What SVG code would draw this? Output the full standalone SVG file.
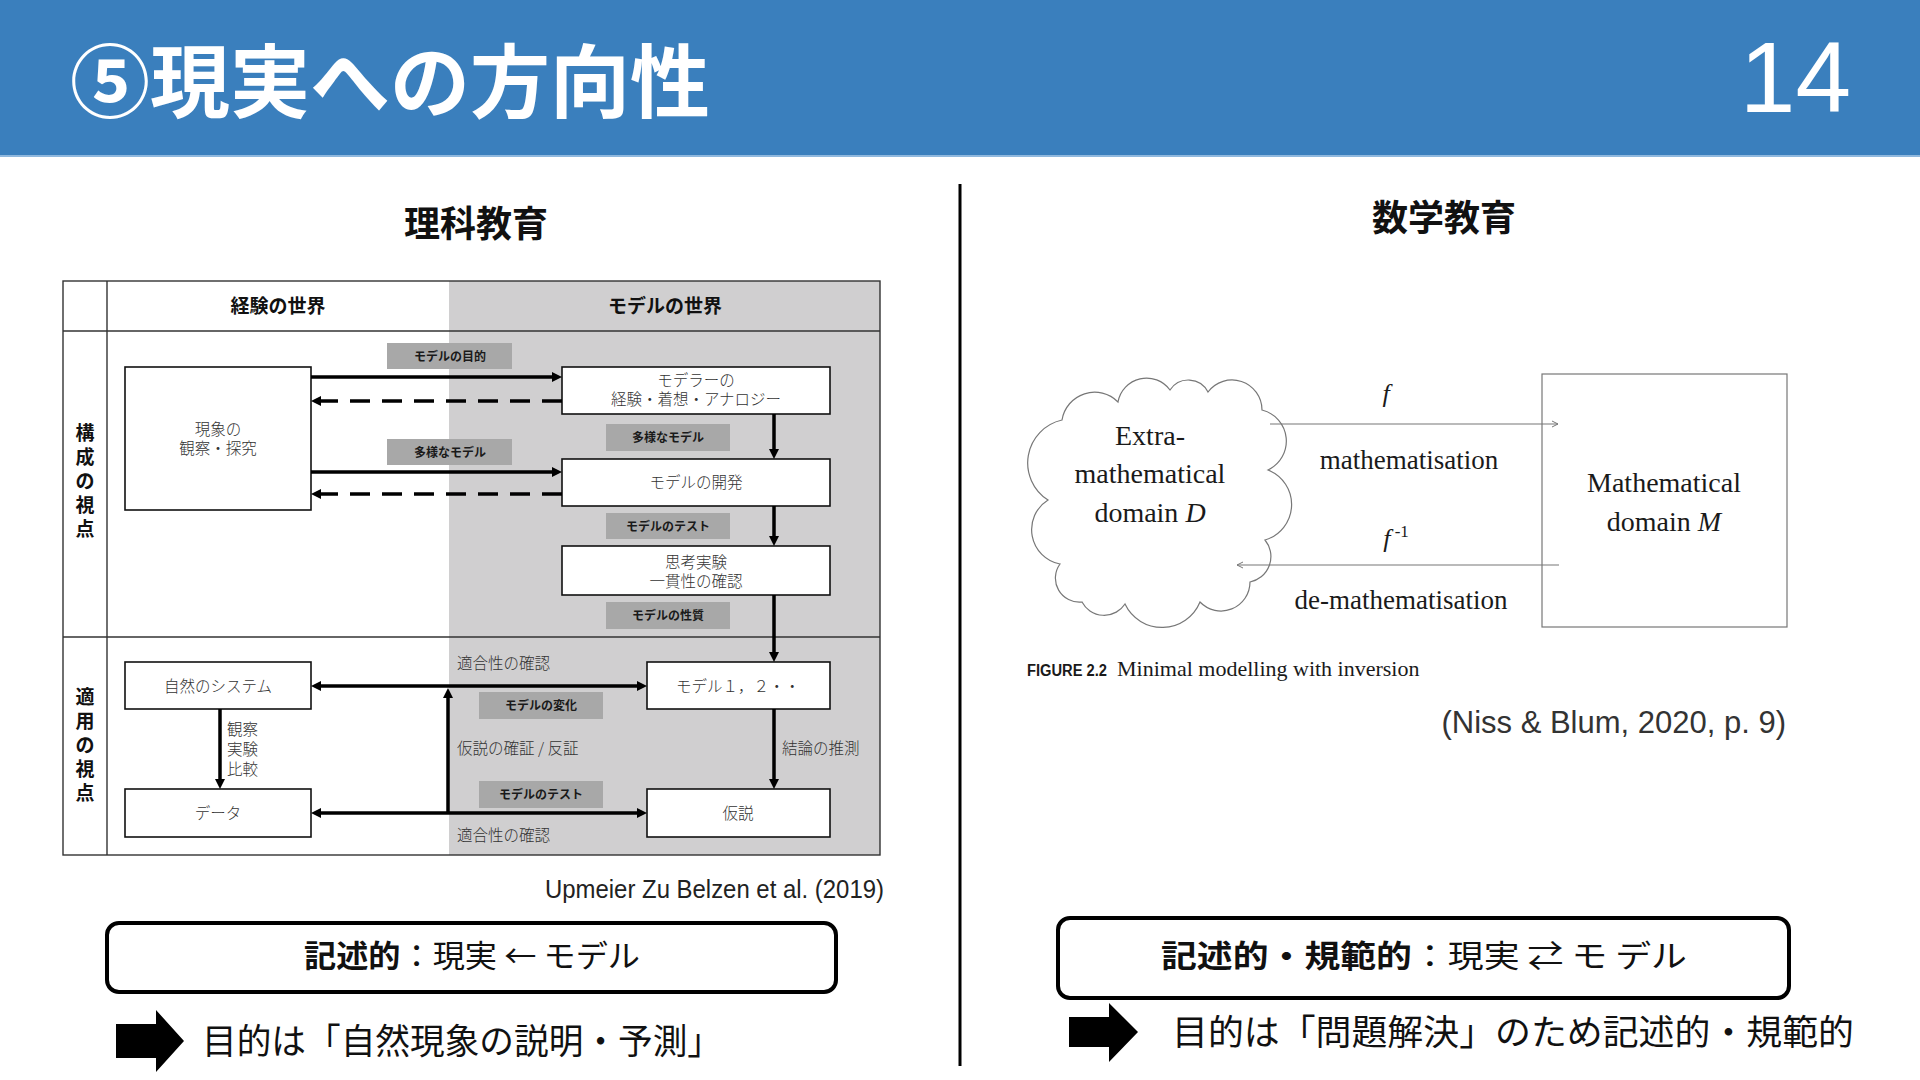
<svg xmlns="http://www.w3.org/2000/svg" width="1920" height="1080" viewBox="0 0 1920 1080">
<style>
.jp{font-family:"Noto Sans CJK JP","Noto Sans CJK SC",sans-serif}
.b{font-weight:bold}
.hdr{font-size:19px;font-weight:bold;fill:#111;text-anchor:middle}
.vl{font-size:19px;font-weight:bold;fill:#111;text-anchor:middle}
.bx{fill:#fff;stroke:#111;stroke-width:1.6}
.bt{font-size:15.5px;fill:#333;text-anchor:middle;font-weight:300}
.lt{font-size:15.5px;fill:#333;font-weight:300}
.gl{fill:#a8a8a8}
.gt{font-size:12px;font-weight:bold;fill:#1a1a1a;text-anchor:middle}
.ln{stroke:#000;stroke-width:3.5;fill:none}
.dash{stroke-dasharray:20 12}
.tbl{stroke:#333;stroke-width:1.4;fill:none}
.serif{font-family:"Liberation Serif","Times New Roman",serif;fill:#1a1a1a}
.thin{stroke:#777;stroke-width:1.2;fill:none}
.frame{fill:#fff;stroke:#000;stroke-width:4}
</style>
<defs>
<marker id="ah" viewBox="0 0 10 10" refX="2" refY="5" markerWidth="10" markerHeight="10" markerUnits="userSpaceOnUse" orient="auto-start-reverse">
<path d="M0,0 L10,5 L0,10 z" fill="#000"/>
</marker>
<marker id="sa" viewBox="0 0 8 8" refX="7" refY="4" markerWidth="8" markerHeight="8" markerUnits="userSpaceOnUse" orient="auto">
<path d="M1,1 L7,4 L1,7" fill="none" stroke="#777" stroke-width="1"/>
</marker>
</defs>

<rect x="0" y="0" width="1920" height="157" fill="#3a7fbd"/>
<rect x="0" y="155" width="1920" height="2" fill="#8fb8de"/>
<text x="70" y="111" class="jp b" font-size="80" fill="#fff">⑤現実への方向性</text>
<text x="1851" y="112" font-family="Liberation Sans,Arial,sans-serif" font-size="100" fill="#fff" text-anchor="end">14</text>

<text x="476" y="237" class="jp b" font-size="36" fill="#111" text-anchor="middle">理科教育</text>
<text x="1444" y="231" class="jp b" font-size="36" fill="#111" text-anchor="middle">数学教育</text>
<line x1="960" y1="184" x2="960" y2="1066" stroke="#000" stroke-width="3"/>

<g id="science-table">
<rect x="449" y="281" width="431" height="574" fill="#d0cfd0"/>
<rect x="63" y="281" width="817" height="574" class="tbl"/>
<line x1="107" y1="281" x2="107" y2="855" class="tbl"/>
<line x1="63" y1="331" x2="880" y2="331" class="tbl"/>
<line x1="63" y1="637" x2="880" y2="637" class="tbl"/>
<text x="278" y="313" class="jp hdr">経験の世界</text>
<text x="665" y="313" class="jp hdr">モデルの世界</text>
<g class="jp vl">
<text x="85" y="440">構</text><text x="85" y="464">成</text><text x="85" y="488">の</text><text x="85" y="512">視</text><text x="85" y="536">点</text>
<text x="85" y="704">適</text><text x="85" y="728">用</text><text x="85" y="752">の</text><text x="85" y="776">視</text><text x="85" y="800">点</text>
</g>
</g>

<g id="labels" class="jp">
<rect x="387" y="343" width="125" height="26" class="gl"/><text x="450" y="360.5" class="gt">モデルの目的</text>
<rect x="387" y="439" width="125" height="26" class="gl"/><text x="450" y="456.5" class="gt">多様なモデル</text>
<rect x="606" y="424" width="124" height="27" class="gl"/><text x="668" y="442" class="gt">多様なモデル</text>
<rect x="606" y="513" width="124" height="26" class="gl"/><text x="668" y="530.5" class="gt">モデルのテスト</text>
<rect x="606" y="602" width="124" height="27" class="gl"/><text x="668" y="620" class="gt">モデルの性質</text>
<rect x="479" y="692" width="124" height="27" class="gl"/><text x="541" y="710" class="gt">モデルの変化</text>
<rect x="479" y="781" width="124" height="27" class="gl"/><text x="541" y="799" class="gt">モデルのテスト</text>
<text x="457" y="669" class="lt">適合性の確認</text>
<text x="457" y="754" class="lt">仮説の確証 / 反証</text>
<text x="457" y="841" class="lt">適合性の確認</text>
<text x="782" y="754" class="lt">結論の推測</text>
<text x="227" y="735" class="lt" font-size="15">観察</text>
<text x="227" y="755" class="lt" font-size="15">実験</text>
<text x="227" y="775" class="lt" font-size="15">比較</text>
</g>

<g id="n-phenomenon" class="jp"><rect x="125" y="367" width="186" height="143" class="bx"/><text x="218" y="435" class="bt">現象の</text><text x="218" y="454" class="bt">観察・探究</text></g>
<g id="n-modeler" class="jp"><rect x="562" y="367" width="268" height="47" class="bx" stroke-width="2"/><text x="696" y="386" class="bt">モデラーの</text><text x="696" y="405" class="bt">経験・着想・アナロジー</text></g>
<g id="n-develop" class="jp"><rect x="562" y="459" width="268" height="47" class="bx"/><text x="696" y="488" class="bt">モデルの開発</text></g>
<g id="n-thought" class="jp"><rect x="562" y="546" width="268" height="49" class="bx" stroke-width="2"/><text x="696" y="568" class="bt">思考実験</text><text x="696" y="587" class="bt">一貫性の確認</text></g>
<g id="n-nature" class="jp"><rect x="125" y="662" width="186" height="47" class="bx"/><text x="218" y="692" class="bt">自然のシステム</text></g>
<g id="n-data" class="jp"><rect x="125" y="789" width="186" height="48" class="bx"/><text x="218" y="819" class="bt">データ</text></g>
<g id="n-models" class="jp"><rect x="647" y="662" width="183" height="47" class="bx"/><text x="738" y="692" class="bt">モデル１，２・・</text></g>
<g id="n-hypothesis" class="jp"><rect x="647" y="789" width="183" height="48" class="bx"/><text x="738" y="819" class="bt">仮説</text></g>

<g id="connectors">
<line x1="311" y1="377" x2="554" y2="377" class="ln" marker-end="url(#ah)"/>
<line x1="562" y1="401" x2="319" y2="401" class="ln dash" marker-end="url(#ah)"/>
<line x1="311" y1="472" x2="554" y2="472" class="ln" marker-end="url(#ah)"/>
<line x1="562" y1="494" x2="319" y2="494" class="ln dash" marker-end="url(#ah)"/>
<line x1="774" y1="414" x2="774" y2="451" class="ln" marker-end="url(#ah)"/>
<line x1="774" y1="506" x2="774" y2="538" class="ln" marker-end="url(#ah)"/>
<line x1="774" y1="595" x2="774" y2="654" class="ln" marker-end="url(#ah)"/>
<line x1="774" y1="709" x2="774" y2="781" class="ln" marker-end="url(#ah)"/>
<line x1="220" y1="709" x2="220" y2="781" class="ln" marker-end="url(#ah)"/>
<line x1="319" y1="686" x2="639" y2="686" class="ln" marker-start="url(#ah)" marker-end="url(#ah)"/>
<line x1="319" y1="813" x2="639" y2="813" class="ln" marker-start="url(#ah)" marker-end="url(#ah)"/>
<line x1="448" y1="813" x2="448" y2="696" class="ln" marker-end="url(#ah)"/>
<line x1="1270" y1="424" x2="1558" y2="424" class="thin" marker-end="url(#sa)"/>
<line x1="1559" y1="565" x2="1237" y2="565" class="thin" marker-end="url(#sa)"/>
</g>

<g id="n-extra">
<path class="thin" stroke="#666" d="M1062,420 A33,33 0 0 1 1118,402 A29,29 0 0 1 1170,390 A22,22 0 0 1 1208,392 A30,30 0 0 1 1262,410 A32,32 0 0 1 1268,470 A37,37 0 0 1 1265,540 A26,26 0 0 1 1250,582 A29,29 0 0 1 1200,602 A41,41 0 0 1 1125,604 A25,25 0 0 1 1082,602 A24,24 0 0 1 1060,564 A35,35 0 0 1 1048,500 A44,44 0 0 1 1062,420 Z"/>
<text x="1150" y="445" class="serif" font-size="28" text-anchor="middle">Extra-</text>
<text x="1150" y="483" class="serif" font-size="28" text-anchor="middle">mathematical</text>
<text x="1150" y="522" class="serif" font-size="28" text-anchor="middle">domain <tspan font-style="italic">D</tspan></text>
</g>
<g id="n-math">
<rect x="1542" y="374" width="245" height="253" class="thin"/>
<text x="1664" y="492" class="serif" font-size="28" text-anchor="middle">Mathematical</text>
<text x="1664" y="531" class="serif" font-size="28" text-anchor="middle">domain <tspan font-style="italic">M</tspan></text>
</g>
<g id="math-labels" class="serif">
<text x="1386" y="402" font-size="26" font-style="italic" text-anchor="middle">f</text>
<text x="1409" y="469" font-size="27" text-anchor="middle">mathematisation</text>
<text x="1396" y="547" font-size="26" font-style="italic" text-anchor="middle">f<tspan font-style="normal" font-size="17" dy="-10"> -1</tspan></text>
<text x="1401" y="609" font-size="27" text-anchor="middle">de-mathematisation</text>
<text x="1027" y="676"><tspan font-family="Liberation Sans,Arial,sans-serif" font-weight="bold" font-size="16" textLength="80" lengthAdjust="spacingAndGlyphs">FIGURE 2.2</tspan><tspan x="1117" font-size="22">Minimal modelling with inversion</tspan></text>
</g>

<text x="1786" y="733" font-family="Liberation Sans,Arial,sans-serif" font-size="31" fill="#333" text-anchor="end">(Niss &amp; Blum, 2020, p. 9)</text>
<text x="545" y="898" font-family="Liberation Sans,Arial,sans-serif" font-size="25" fill="#222" textLength="339" lengthAdjust="spacingAndGlyphs">Upmeier Zu Belzen et al. (2019)</text>

<g id="summary-left" class="jp">
<rect x="107" y="923" width="729" height="69" rx="12" class="frame"/>
<text x="304" y="967" font-size="31" fill="#111" textLength="336" lengthAdjust="spacingAndGlyphs"><tspan font-weight="bold">記述的</tspan>：現実 ← モデル</text>
<polygon points="116,1024 156,1024 156,1010 184,1041 156,1072 156,1058 116,1058" fill="#000"/>
<text x="202" y="1054" font-size="35" fill="#111" textLength="520" lengthAdjust="spacingAndGlyphs">目的は「自然現象の説明・予測」</text>
</g>
<g id="summary-right" class="jp">
<rect x="1058" y="918" width="731" height="80" rx="12" class="frame"/>
<text x="1161" y="967" font-size="31" fill="#111" textLength="526" lengthAdjust="spacingAndGlyphs"><tspan font-weight="bold">記述的・規範的</tspan>：現実 ⇄ モ デル</text>
<polygon points="1069,1017 1109,1017 1109,1003 1138,1032 1109,1062 1109,1047 1069,1047" fill="#000"/>
<text x="1172" y="1045" font-size="35" fill="#111" textLength="682" lengthAdjust="spacingAndGlyphs">目的は「問題解決」のため記述的・規範的</text>
</g>
</svg>
